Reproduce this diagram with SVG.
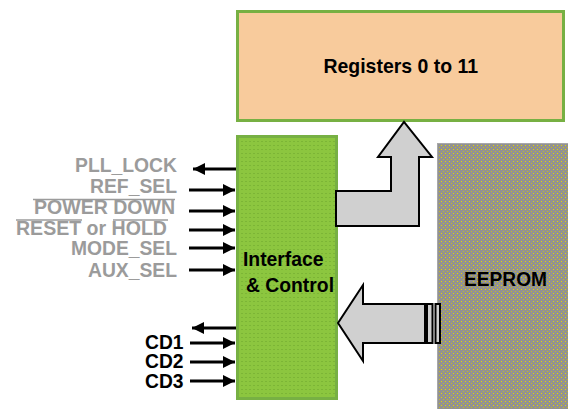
<svg xmlns="http://www.w3.org/2000/svg" width="568" height="409" viewBox="0 0 568 409">
<style>
.lbl{font-family:"Liberation Sans",Arial,sans-serif;font-weight:bold;font-size:21px}
.gray{fill:#9b9b9b}
.blk{fill:#000}
.sig{stroke:#000;stroke-width:3;fill:none}
.ovl{stroke:#9b9b9b;stroke-width:1.5}
.bus{fill:#d0d0d0;stroke:#000;stroke-width:2;stroke-linejoin:miter}
</style>
<defs>
<pattern id="gdots" width="4" height="4" patternUnits="userSpaceOnUse">
<rect width="4" height="4" fill="#8cc63f"/>
<rect x="1" y="1" width="2" height="1" fill="#7cb536"/>
</pattern>
<pattern id="ydots" width="4" height="4" patternUnits="userSpaceOnUse">
<rect width="4" height="4" fill="#929292"/>
<rect x="1" y="1" width="1" height="1" fill="#e6d600"/>
<rect x="3" y="3" width="1" height="1" fill="#c9bc20"/>
</pattern>
<marker id="ah" viewBox="0 0 12 12" refX="12" refY="6" markerWidth="12" markerHeight="12" markerUnits="userSpaceOnUse" orient="auto">
<path d="M0,0 L12,6 L0,12 Z" fill="#000"/>
</marker>
</defs>

<g id="registers">
<rect x="237.5" y="11.5" width="326" height="109" fill="#f8cb9c" stroke="#77b043" stroke-width="3"/>
<text class="lbl blk" x="323.5" y="72.5" textLength="154.5" lengthAdjust="spacingAndGlyphs">Registers 0 to 11</text>
</g>

<g id="interface">
<rect x="237.5" y="136.5" width="99" height="262" fill="url(#gdots)" stroke="#77b043" stroke-width="3"/>
<text class="lbl blk" x="243" y="266" textLength="80.5" lengthAdjust="spacingAndGlyphs">Interface</text>
<text class="lbl blk" x="246" y="292" textLength="88" lengthAdjust="spacingAndGlyphs">&amp; Control</text>
</g>

<g id="eeprom">
<rect x="437.5" y="143.5" width="132" height="267" fill="url(#ydots)" stroke="#a8a8a8" stroke-width="1"/>
<text class="lbl blk" x="464" y="286" textLength="83" lengthAdjust="spacingAndGlyphs" style="font-size:20px">EEPROM</text>
</g>

<g id="labels">
<text class="lbl gray" x="75" y="172" textLength="102" lengthAdjust="spacingAndGlyphs">PLL_LOCK</text>
<text class="lbl gray" x="90" y="193" textLength="87" lengthAdjust="spacingAndGlyphs">REF_SEL</text>
<text class="lbl gray" x="34" y="214" textLength="141" lengthAdjust="spacingAndGlyphs">POWER DOWN</text>
<line class="ovl" x1="33" y1="199.5" x2="175" y2="199.5"/>
<text class="lbl gray" x="16" y="235" textLength="151" lengthAdjust="spacingAndGlyphs">RESET or HOLD</text>
<line class="ovl" x1="16" y1="220" x2="82" y2="220"/>
<line class="ovl" x1="113" y1="220" x2="168" y2="220"/>
<text class="lbl gray" x="71" y="255" textLength="106" lengthAdjust="spacingAndGlyphs">MODE_SEL</text>
<text class="lbl gray" x="88" y="277" textLength="89" lengthAdjust="spacingAndGlyphs">AUX_SEL</text>
<text class="lbl blk" x="145" y="349" textLength="38.5" lengthAdjust="spacingAndGlyphs">CD1</text>
<text class="lbl blk" x="145" y="368" textLength="38.5" lengthAdjust="spacingAndGlyphs">CD2</text>
<text class="lbl blk" x="145" y="388" textLength="38.5" lengthAdjust="spacingAndGlyphs">CD3</text>
</g>

<g id="connectors">
<line class="sig" x1="236" y1="169" x2="193" y2="169" marker-end="url(#ah)"/>
<line class="sig" x1="189" y1="190" x2="235" y2="190" marker-end="url(#ah)"/>
<line class="sig" x1="189" y1="211" x2="235" y2="211" marker-end="url(#ah)"/>
<line class="sig" x1="189" y1="230" x2="235" y2="230" marker-end="url(#ah)"/>
<line class="sig" x1="189" y1="248" x2="235" y2="248" marker-end="url(#ah)"/>
<line class="sig" x1="189" y1="270" x2="235" y2="270" marker-end="url(#ah)"/>
<line class="sig" x1="236" y1="328" x2="192" y2="328" marker-end="url(#ah)"/>
<line class="sig" x1="190" y1="343" x2="235" y2="343" marker-end="url(#ah)"/>
<line class="sig" x1="190" y1="362" x2="235" y2="362" marker-end="url(#ah)"/>
<line class="sig" x1="190" y1="381" x2="235" y2="381" marker-end="url(#ah)"/>
<path class="bus" d="M336,191 L391,191 L391,157 L378,157 L404,122 L432,157 L419,157 L419,226 L336,226 Z"/>
<path class="bus" d="M425,304 L363,304 L363,285 L338,323 L363,361 L363,343 L425,343 Z"/>
<rect class="bus" x="427" y="304" width="5.5" height="39"/>
<rect class="bus" x="435.5" y="304" width="4.5" height="39"/>
</g>
</svg>
